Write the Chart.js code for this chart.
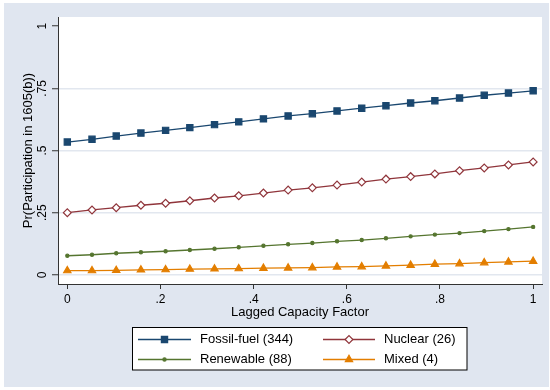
<!DOCTYPE html>
<html>
<head>
<meta charset="utf-8">
<script src="https://cdn.jsdelivr.net/npm/chart.js@4/dist/chart.umd.min.js"></script>
<style>
  html, body { margin: 0; padding: 0; background: #fff; }
  #wrap { width: 550px; height: 390px; }
</style>
</head>
<body>
<div id="wrap"><canvas id="chart" width="550" height="390"></canvas></div>
<script>
// Pr(participation) vs lagged capacity factor, by plant type
const capacityFactor = [0, .053, .105, .158, .211, .263, .316, .368, .421, .474,
                        .526, .579, .632, .684, .737, .789, .842, .895, .947, 1];

const fossilFuel = [.534, .545, .558, .570, .581, .592, .604, .615, .627, .639,
                    .648, .659, .670, .680, .691, .700, .711, .722, .731, .740];
const nuclear    = [.250, .261, .270, .280, .288, .298, .309, .318, .329, .341,
                    .350, .361, .373, .385, .395, .406, .419, .430, .442, .454];
const renewable  = [.077, .081, .087, .091, .095, .100, .105, .111, .117, .123,
                    .128, .135, .140, .147, .155, .162, .168, .176, .184, .193];
const mixed      = [.017, .017, .018, .020, .021, .023, .024, .025, .027, .028,
                    .029, .032, .033, .036, .039, .043, .045, .049, .052, .055];

const seriesLabels = ['Fossil-fuel (344)', 'Nuclear (26)', 'Renewable (88)', 'Mixed (4)'];

const xTicks = [0, .2, .4, .6, .8, 1];
const xTickLabels = ['0', '.2', '.4', '.6', '.8', '1'];
const yTicks = [0, .25, .5, .75, 1];
const yTickLabels = ['0', '.25', '.5', '.75', '1'];

const FONT = '"Liberation Sans", Arial, Helvetica, sans-serif';
const BG = '#e0e6f0';
const GRID = '#e2e7ef';

function toPoints(ys) {
    return ys.map((y, i) => ({ x: capacityFactor[i], y: y }));
}

// graph region + white plot region
const stataBackground = {
    id: 'stataBackground',
    beforeDraw(chart) {
        const { ctx, chartArea: a } = chart;
        ctx.save();
        ctx.fillStyle = '#fff';
        ctx.fillRect(0, 0, chart.width, chart.height);
        ctx.fillStyle = BG;
        ctx.fillRect(4, 3, 545, 384);
        ctx.fillStyle = '#fff';
        ctx.fillRect(a.left, a.top, a.right - a.left, a.bottom - a.top);
        ctx.restore();
    }
};

// legend box like stata: line sample with marker in the middle, 2 columns
const stataLegend = {
    id: 'stataLegend',
    afterDraw(chart) {
        const ctx = chart.ctx;
        ctx.save();
        ctx.fillStyle = '#fff';
        ctx.strokeStyle = '#000';
        ctx.lineWidth = 1;
        ctx.fillRect(132.5, 327.5, 334.5, 42.5);
        ctx.strokeRect(132.5, 327.5, 334.5, 42.5);

        const cols = [{ x0: 138, x1: 191, tx: 200 }, { x0: 323, x1: 375, tx: 384 }];
        const rows = [339.5, 359.5];
        ctx.font = '13px ' + FONT;
        ctx.textBaseline = 'middle';
        ctx.textAlign = 'left';

        chart.data.datasets.forEach((ds, i) => {
            const c = cols[i % 2];
            const y = rows[Math.floor(i / 2)];
            ctx.strokeStyle = ds.borderColor;
            ctx.lineWidth = ds.borderWidth;
            ctx.beginPath();
            ctx.moveTo(c.x0, y);
            ctx.lineTo(c.x1, y);
            ctx.stroke();

            ctx.fillStyle = ds.pointBackgroundColor;
            ctx.strokeStyle = ds.pointBorderColor;
            ctx.lineWidth = ds.pointBorderWidth;
            Chart.helpers.drawPoint(ctx, {
                pointStyle: ds.pointStyle,
                radius: ds.pointRadius,
                borderWidth: ds.pointBorderWidth,
                rotation: 0
            }, (c.x0 + c.x1) / 2, y);

            ctx.fillStyle = '#000';
            ctx.fillText(ds.label, c.tx, y);
        });
        ctx.restore();
    }
};

function makeSet(label, ys, color, style, radius, fill) {
    return {
        label: label,
        data: toPoints(ys),
        borderColor: color,
        borderWidth: 1.3,
        pointStyle: style,
        pointRadius: radius,
        pointHoverRadius: radius,
        pointBackgroundColor: fill,
        pointBorderColor: color,
        pointBorderWidth: 1.2,
        tension: 0,
        fill: false
    };
}

new Chart(document.getElementById('chart'), {
    type: 'line',
    plugins: [stataBackground, stataLegend],
    data: {
        datasets: [
            makeSet(seriesLabels[0], fossilFuel, '#1a476f', 'rect', 4.4, '#1a476f'),
            makeSet(seriesLabels[1], nuclear, '#90353b', 'rectRot', 3.9, '#fff'),
            makeSet(seriesLabels[2], renewable, '#55752f', 'circle', 1.6, '#55752f'),
            makeSet(seriesLabels[3], mixed, '#e37e00', 'triangle', 4.2, '#e37e00')
        ]
    },
    options: {
        responsive: false,
        animation: false,
        events: [],
        layout: { padding: { left: 14, right: 8, top: 17, bottom: 66 } },
        plugins: {
            legend: { display: false },
            tooltip: { enabled: false }
        },
        scales: {
            x: {
                type: 'linear',
                min: -0.02,
                max: 1.019,
                afterBuildTicks: (s) => { s.ticks = xTicks.map(v => ({ value: v })); },
                afterFit: (s) => { s.height = 40; },
                border: { color: '#333', width: 1 },
                grid: { drawOnChartArea: false, drawTicks: true, tickLength: 5, tickColor: '#333', tickWidth: 1 },
                ticks: {
                    padding: 3,
                    color: '#000',
                    font: { family: FONT, size: 12 },
                    maxRotation: 0,
                    callback: (v) => xTickLabels[xTicks.indexOf(v)]
                },
                title: {
                    display: true,
                    text: 'Lagged Capacity Factor',
                    color: '#000',
                    font: { family: FONT, size: 13 },
                    padding: { top: 0, bottom: 4 }
                }
            },
            y: {
                type: 'linear',
                min: -0.0366,
                max: 1.0366,
                afterBuildTicks: (s) => { s.ticks = yTicks.map(v => ({ value: v })); },
                afterFit: (s) => { s.width = 58 - 14; },
                border: { color: '#333', width: 1 },
                grid: {
                    color: (c) => (c.tick && c.tick.value === 1) ? 'rgba(0,0,0,0)' : GRID,
                    lineWidth: 1.5,
                    drawTicks: true,
                    tickLength: 6,
                    tickColor: '#333',
                    tickWidth: 1
                },
                ticks: {
                    padding: 1,
                    color: '#000',
                    crossAlign: 'center',
                    minRotation: 90,
                    maxRotation: 90,
                    font: { family: FONT, size: 12 },
                    callback: (v) => yTickLabels[yTicks.indexOf(v)]
                },
                title: {
                    display: true,
                    text: 'Pr(Participation in 1605(b))',
                    color: '#000',
                    font: { family: FONT, size: 13 },
                    padding: { top: 7, bottom: 0 }
                }
            }
        }
    }
});
</script>
</body>
</html>
